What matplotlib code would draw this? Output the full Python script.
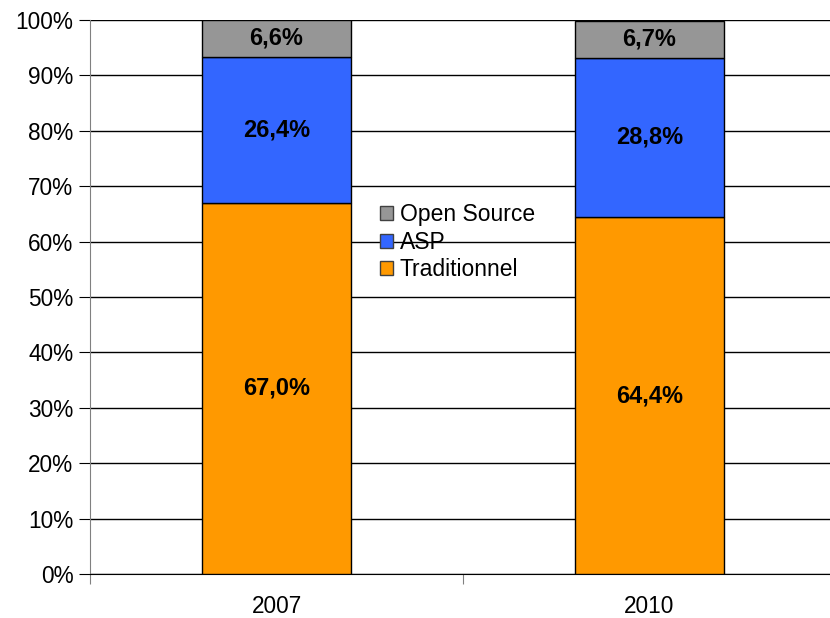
import numpy as np
import matplotlib.pyplot as plt
from matplotlib.patches import Patch
from matplotlib.ticker import FuncFormatter

plt.rcParams["font.family"] = ["Liberation Sans", "DejaVu Sans"]

# data
years = ["2007", "2010"]
traditionnel = [67.0, 64.4]
asp = [26.4, 28.8]
open_source = [6.6, 6.7]
series_names = ["Traditionnel", "ASP", "Open Source"]
colors = ["#FF9900", "#3366FF", "#969696"]

fig = plt.figure(figsize=(8.3, 6.18), dpi=100)
# axes run slightly past the right edge, like the original export
ax = fig.add_axes([90 / 830, 44 / 618, 746 / 830, 554 / 618])

x = np.arange(len(years))
width = 0.4
bottom = np.zeros(len(years))
for vals, name, col in zip([traditionnel, asp, open_source], series_names, colors):
    vals = np.array(vals)
    ax.bar(x, vals, width, bottom=bottom, color=col, edgecolor="black",
           linewidth=1.0, zorder=3, label=name)
    for xi, b, v in zip(x, bottom, vals):
        ax.text(xi, b + v / 2, f"{v:.1f}%".replace(".", ","), ha="center",
                va="center", fontsize=17, fontweight="bold", zorder=4)
    bottom += vals

ax.set_xlim(-0.5, 1.5)
ax.set_ylim(0, 100)
ax.set_yticks(np.arange(0, 101, 10))
ax.yaxis.set_major_formatter(FuncFormatter(lambda v, p: f"{v:.0f}%"))
ax.grid(axis="y", color="black", linewidth=1.0, zorder=1)

# x ticks sit between the categories; labels go at the centres
ax.set_xticks([-0.5, 0.5, 1.5])
ax.set_xticklabels([])
ax.set_xticks(x, minor=True)
ax.set_xticklabels(years, minor=True)
ax.tick_params(axis="x", which="minor", length=0, pad=15, labelsize=16.3)
ax.tick_params(axis="x", which="major", direction="out", length=7, color="#808080")
ax.tick_params(axis="y", direction="out", length=8, color="black", labelsize=16.3, pad=4)

for side in ["top", "right"]:
    ax.spines[side].set_visible(False)
ax.spines["left"].set_color("#808080")
ax.spines["bottom"].set_color("black")

handles = [Patch(facecolor=c, edgecolor="#404040", label=n)
           for n, c in zip(series_names[::-1], colors[::-1])]
leg = ax.legend(handles=handles, loc="upper left", bbox_to_anchor=(0.377, 0.686),
                frameon=False, fontsize=16.5, handlelength=0.55, handleheight=0.55,
                handletextpad=0.3, labelspacing=0.2, borderaxespad=0)
leg.set_zorder(5)

fig.savefig("out.png", dpi=100)
